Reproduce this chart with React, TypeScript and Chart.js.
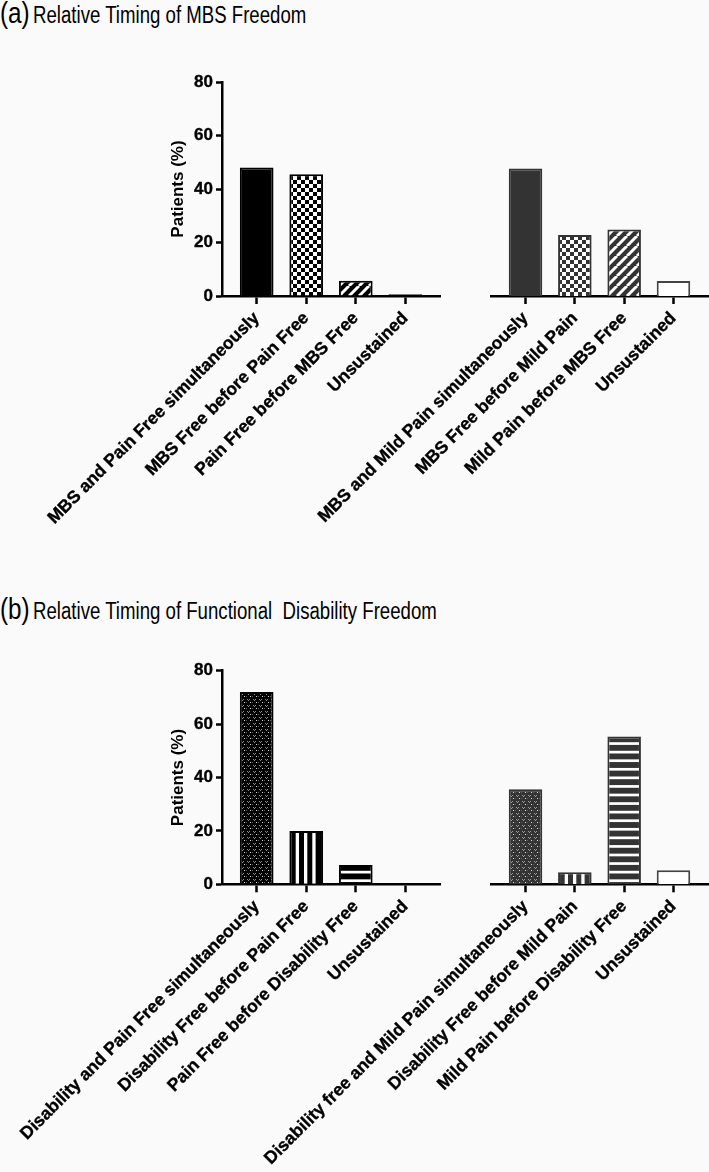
import React, { useEffect, useRef } from "react";
import { Chart, registerables } from "chart.js";

Chart.register(...registerables);

// ---------- data ----------
const yTicks = [0, 20, 40, 60, 80];
const xPositions = [0, 1, 2, 3];

const mbsPainLabels = [
  "MBS and Pain Free simultaneously",
  "MBS Free before Pain Free",
  "Pain Free before MBS Free",
  "Unsustained",
];
const mbsPainValues = [48, 45.5, 5.7, 0.7];

const mbsMildLabels = [
  "MBS and Mild Pain simultaneously",
  "MBS Free before Mild Pain",
  "Mild Pain before MBS Free",
  "Unsustained",
];
const mbsMildValues = [47.7, 22.8, 24.9, 5.6];

const disPainLabels = [
  "Disability and Pain Free simultaneously",
  "Disability Free before Pain Free",
  "Pain Free before Disability Free",
  "Unsustained",
];
const disPainValues = [72, 20, 7.2, 0];

const disMildLabels = [
  "Disability free and Mild Pain simultaneously",
  "Disability Free before Mild Pain",
  "Mild Pain before Disability Free",
  "Unsustained",
];
const disMildValues = [35.6, 4.5, 55.4, 5.3];

// ---------- styles ----------
const mbsPainFills = ["solid", "checker", "diagonal", "solid"];
const mbsMildFills = ["solid", "checker", "diagonal", "white"];
const disPainFills = ["speckle", "vstripes", "hstripes", "solid"];
const disMildFills = ["speckle", "vstripes", "hstripes", "white"];

const FONT = "'Liberation Sans', Arial, Helvetica, sans-serif";
Chart.defaults.font.family = FONT;
Chart.defaults.color = "#000";

function makeFill(kind: string, color: string): any {
  if (kind === "solid") return color;
  if (kind === "white") return "#ffffff";
  const c = document.createElement("canvas");
  const ctx = c.getContext("2d")!;
  if (kind === "checker") {
    c.width = 8;
    c.height = 8;
    ctx.fillStyle = "#fff";
    ctx.fillRect(0, 0, 8, 8);
    ctx.fillStyle = color;
    ctx.fillRect(0, 0, 4, 4);
    ctx.fillRect(4, 4, 4, 4);
  } else if (kind === "diagonal") {
    const s = 10;
    c.width = s;
    c.height = s;
    ctx.fillStyle = color;
    ctx.fillRect(0, 0, s, s);
    ctx.strokeStyle = "#fff";
    ctx.lineWidth = 3;
    for (const o of [-s, 0, s]) {
      ctx.beginPath();
      ctx.moveTo(o, s);
      ctx.lineTo(o + s, 0);
      ctx.stroke();
    }
  } else if (kind === "vstripes") {
    c.width = 34;
    c.height = 2;
    ctx.fillStyle = color;
    ctx.fillRect(0, 0, 34, 2);
    ctx.fillStyle = "#fff";
    for (const x of [6.7, 15, 23.3]) ctx.fillRect(x, 0, 3.3, 2);
  } else if (kind === "hstripes") {
    c.width = 2;
    c.height = 60;
    ctx.fillStyle = color;
    ctx.fillRect(0, 0, 2, 60);
    ctx.fillStyle = "#fff";
    for (let k = 0; k < 7; k++) {
      const cy = 56.7 - 8.57 * k;
      ctx.fillRect(0, cy - 1.35, 2, 2.7);
    }
  } else if (kind === "speckle") {
    c.width = 6;
    c.height = 6;
    ctx.fillStyle = color;
    ctx.fillRect(0, 0, 6, 6);
    const light = color === "#000000" ? "#8a8a8a" : "#9a9a9a";
    ctx.fillStyle = light;
    ctx.fillRect(1, 1, 1, 1);
    ctx.fillRect(3, 1, 1, 1);
    ctx.fillRect(2, 2, 1, 1);
    ctx.fillStyle = "#d8d8d8";
    ctx.fillRect(4, 4, 1, 1);
    ctx.fillStyle = "#5a5a5a";
    ctx.fillRect(0, 4, 1, 1);
  }
  return ctx.createPattern(c, "repeat");
}

const alignPatterns = {
  id: "alignPatterns",
  beforeDatasetsDraw(chart: any) {
    chart.data.datasets.forEach((ds: any, di: number) => {
      const meta = chart.getDatasetMeta(di);
      meta.data.forEach((el: any, i: number) => {
        const bg = Array.isArray(ds.backgroundColor) ? ds.backgroundColor[i] : null;
        if (bg && typeof bg !== "string" && typeof bg.setTransform === "function") {
          try {
            const left = el.x - el.width / 2;
            bg.setTransform(new DOMMatrix().translateSelf(Math.round(left), Math.round(el.base)));
          } catch (e) {}
        }
      });
    });
  },
};

type GroupProps = {
  labels: string[];
  values: number[];
  fills: string[];
  color: string;
  border: string;
  showY: boolean;
  left: number;
  top: number;
  width: number;
  height: number;
  padLeft: number;
  padTop: number;
  padRight: number;
  plotHeight: number;
};

function BarGroup(p: GroupProps) {
  const ref = useRef<HTMLCanvasElement | null>(null);
  useEffect(() => {
    if (!ref.current) return;
    const xHeight = p.height - p.padTop - p.plotHeight;
    const bgs = p.fills.map((f) => makeFill(f, p.color));
    const borders = p.fills.map((f) => (f === "white" ? "#444444" : p.border));
    const chart = new Chart(ref.current, {
      type: "bar",
      data: {
        datasets: [
          {
            data: p.values.map((v, i) => ({ x: xPositions[i], y: v })),
            backgroundColor: bgs,
            borderColor: borders,
            borderWidth: 2,
            barPercentage: 0.85,
            categoryPercentage: 0.8,
          } as any,
        ],
      },
      options: {
        animation: false,
        responsive: false,
        maintainAspectRatio: false,
        devicePixelRatio: 1,
        layout: { padding: { left: p.padLeft, top: p.padTop, right: p.padRight, bottom: 0 } },
        plugins: {
          legend: { display: false },
          tooltip: { enabled: false },
          title: { display: false },
        },
        scales: {
          x: {
            type: "linear",
            min: -0.7,
            max: 3.7,
            bounds: "data",
            offset: false,
            afterBuildTicks: (s: any) => {
              s.ticks = xPositions.map((v) => ({ value: v }));
            },
            afterFit: (s: any) => {
              s.height = xHeight;
              s.paddingLeft = 0;
              s.paddingRight = 0;
            },
            ticks: {
              autoSkip: false,
              maxRotation: 45,
              minRotation: 45,
              padding: 4,
              color: "#000",
              textStrokeColor: "#000",
              textStrokeWidth: 0.35,
              font: { size: 17.5, weight: "bold", family: FONT },
              callback: (v: any) => p.labels[Math.round(Number(v))] ?? "",
            },
            grid: {
              display: true,
              drawOnChartArea: false,
              drawTicks: true,
              tickLength: 8,
              tickWidth: 2.5,
              tickColor: "#000",
              color: "#000",
              offset: false,
            },
            border: { display: true, color: "#000", width: 2.5 },
          } as any,
          y: {
            display: p.showY,
            min: 0,
            max: 80,
            afterBuildTicks: (s: any) => {
              s.ticks = yTicks.map((v) => ({ value: v }));
            },
            afterFit: (s: any) => {
              if (p.showY) {
                s.width = 58;
                s.paddingTop = 0;
                s.paddingBottom = 0;
              }
            },
            ticks: {
              padding: 3,
              color: "#000",
              textStrokeColor: "#000",
              textStrokeWidth: 0.35,
              font: { size: 17, weight: "bold", family: FONT },
            },
            grid: {
              drawOnChartArea: false,
              drawTicks: true,
              tickLength: 6,
              tickWidth: 2.5,
              tickColor: "#000",
              color: "#000",
            },
            border: { display: true, color: "#000", width: 2.5 },
            title: {
              display: true,
              text: "Patients (%)",
              color: "#000",
              font: { size: 17, weight: "bold", family: FONT },
              padding: { top: 4, bottom: 4 },
            },
          } as any,
        },
      } as any,
      plugins: [alignPatterns],
    });
    return () => chart.destroy();
  }, []);
  return (
    <canvas
      ref={ref}
      width={p.width}
      height={p.height}
      style={{ position: "absolute", left: p.left, top: p.top, width: p.width, height: p.height }}
    />
  );
}

function PanelTitle({ letter, text, top }: { letter: string; text: string; top: number }) {
  const common: React.CSSProperties = {
    position: "absolute",
    fontFamily: FONT,
    color: "#000",
    lineHeight: 1,
    whiteSpace: "pre",
    transformOrigin: "left top",
    transform: "scaleX(0.81)",
  };
  return (
    <>
      <div style={{ ...common, left: 0, top: top - 6, fontSize: 30 }}>{letter}</div>
      <div style={{ ...common, left: 33, top: top, fontSize: 23 }}>{text}</div>
    </>
  );
}

export default function App() {
  return (
    <div
      style={{
        position: "absolute",
        left: 0,
        top: 0,
        width: 709,
        height: 1172,
        background: "#fafafa",
        overflow: "hidden",
      }}
    >
      <PanelTitle letter="(a)" text="Relative Timing of MBS Freedom" top={4} />
      <PanelTitle letter="(b)" text="Relative Timing of Functional  Disability Freedom" top={599.5} />

      <BarGroup
        labels={mbsPainLabels}
        values={mbsPainValues}
        fills={mbsPainFills}
        color="#000000"
        border="#000000"
        showY={true}
        left={0}
        top={50}
        width={445}
        height={500}
        padLeft={164}
        padTop={32}
        padRight={5}
        plotHeight={214}
      />
      <BarGroup
        labels={mbsMildLabels}
        values={mbsMildValues}
        fills={mbsMildFills}
        color="#333333"
        border="#333333"
        showY={false}
        left={191}
        top={50}
        width={518}
        height={500}
        padLeft={300}
        padTop={32}
        padRight={1}
        plotHeight={214}
      />
      <BarGroup
        labels={disPainLabels}
        values={disPainValues}
        fills={disPainFills}
        color="#000000"
        border="#000000"
        showY={true}
        left={0}
        top={640}
        width={445}
        height={532}
        padLeft={164}
        padTop={30.7}
        padRight={5}
        plotHeight={213.6}
      />
      <BarGroup
        labels={disMildLabels}
        values={disMildValues}
        fills={disMildFills}
        color="#333333"
        border="#333333"
        showY={false}
        left={191}
        top={640}
        width={518}
        height={532}
        padLeft={300}
        padTop={30.7}
        padRight={1}
        plotHeight={213.6}
      />
    </div>
  );
}
